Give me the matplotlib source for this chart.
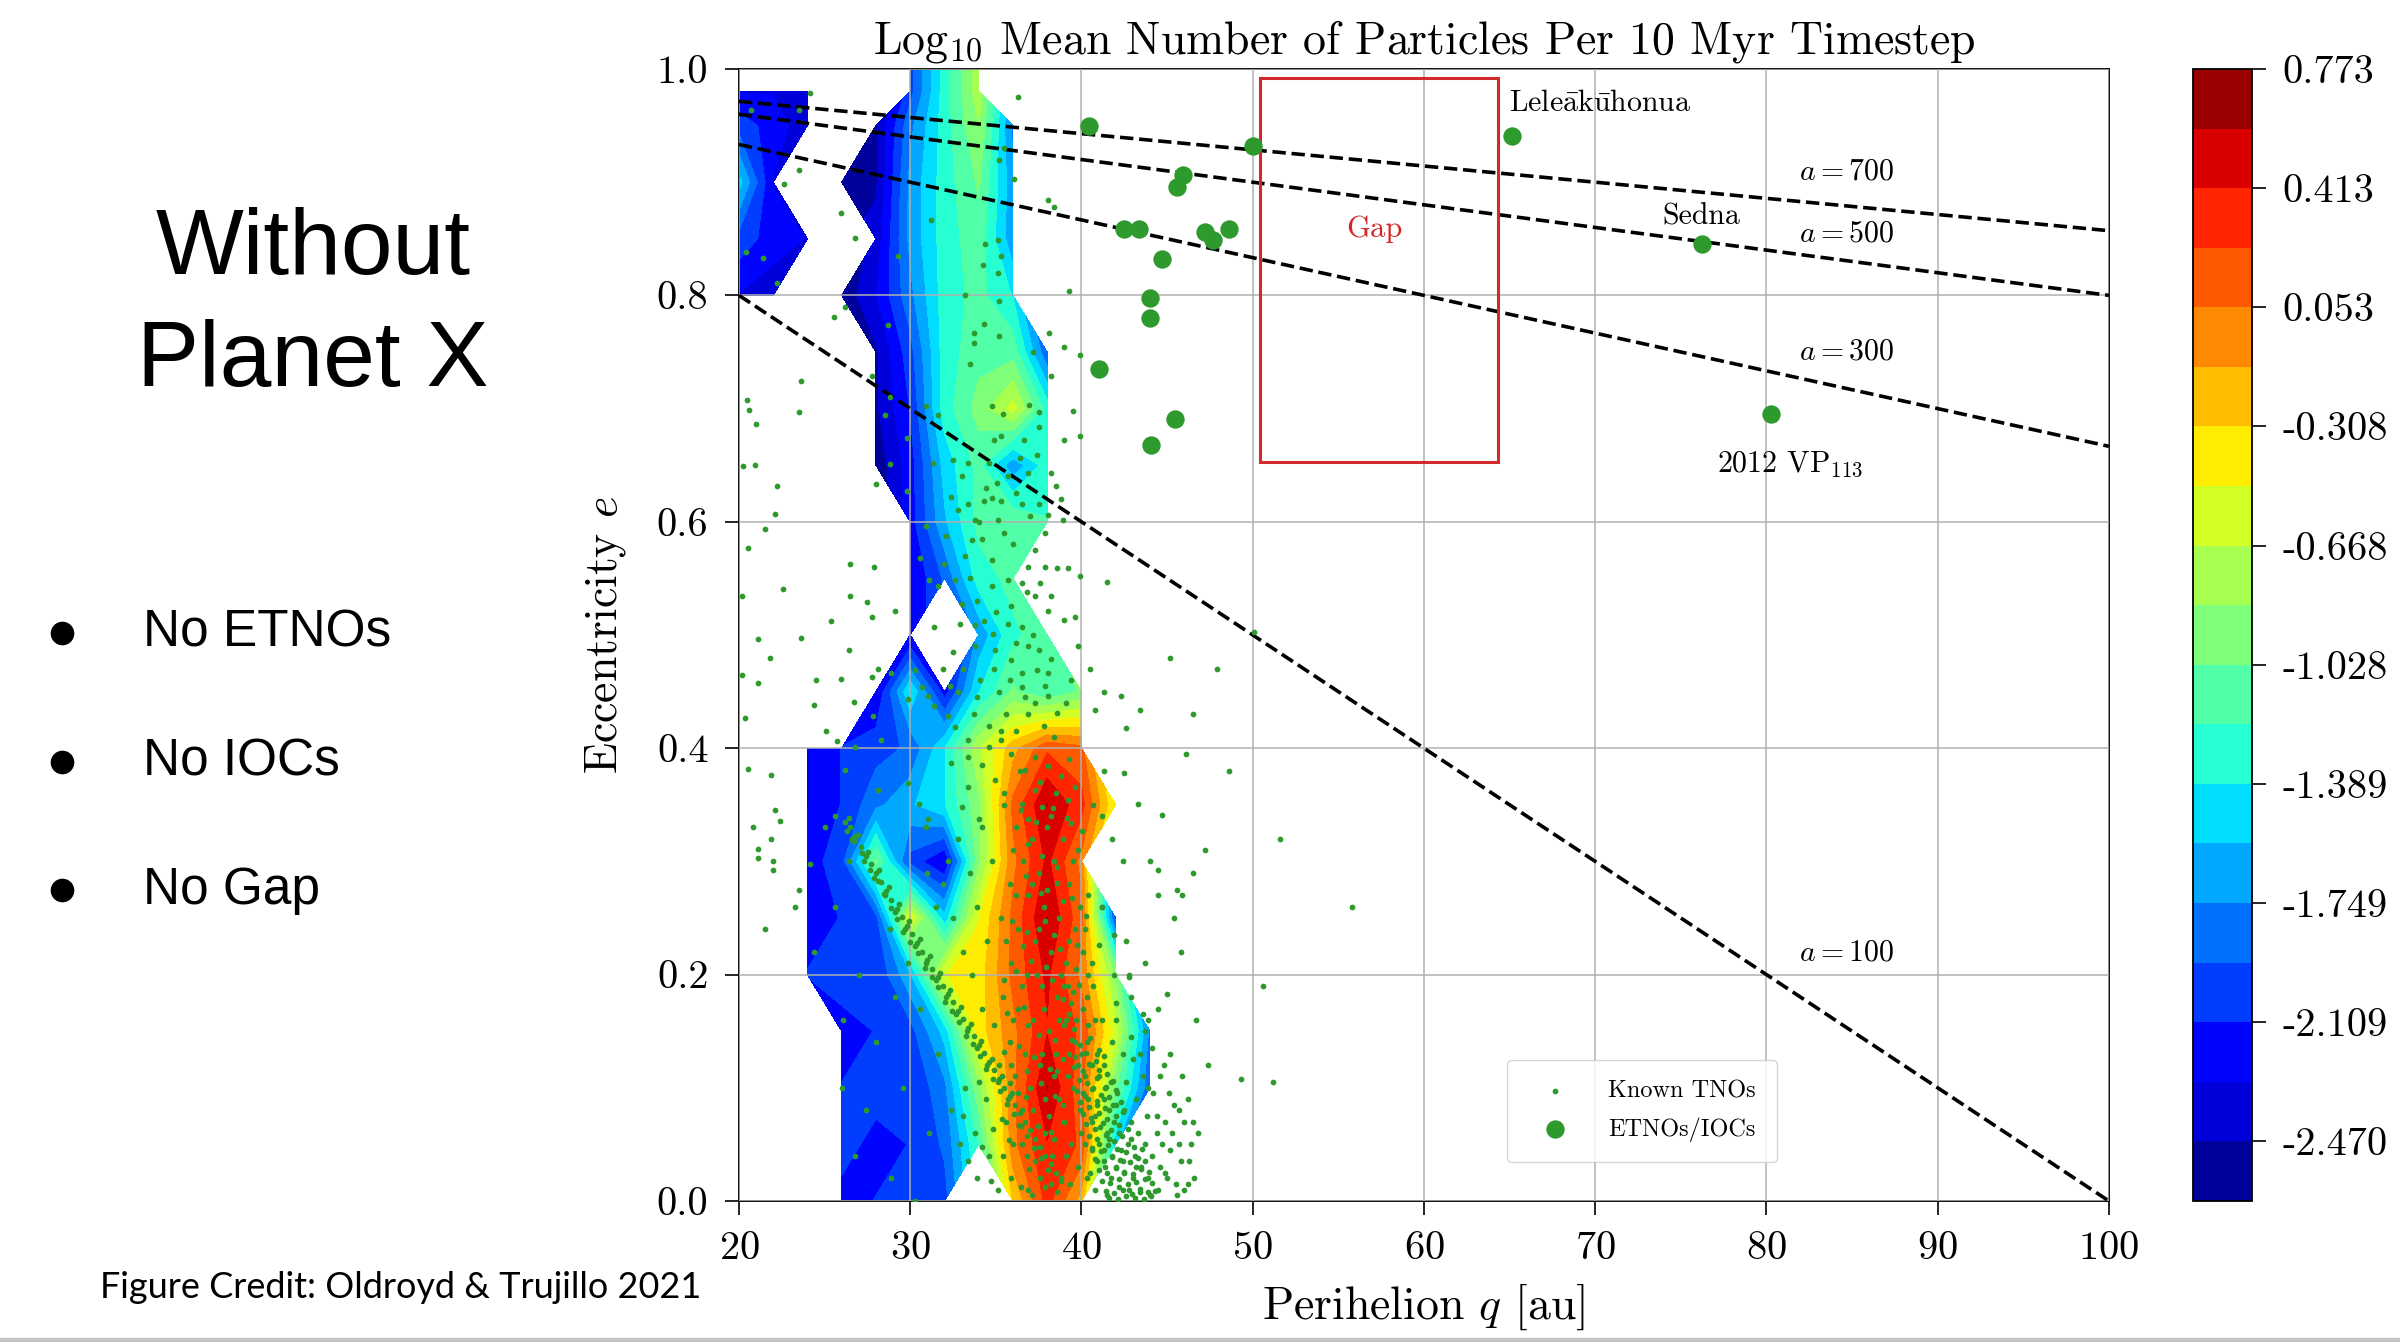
import numpy as np
import matplotlib.pyplot as plt
from matplotlib.patches import Rectangle
from matplotlib.lines import Line2D

plt.rcParams['font.family'] = 'cmr10'
plt.rcParams['mathtext.fontset'] = 'cm'
plt.rcParams['axes.unicode_minus'] = False
plt.rcParams['axes.formatter.use_mathtext'] = True

n = np.nan

# grid of log10 mean particle counts (rows top -> bottom)
q_grid = [20, 22, 24, 26, 28, 30, 32, 34, 36, 38, 40, 42, 44, 46, 48]
e_grid = [1.00, 0.98, 0.95, 0.90, 0.85, 0.80, 0.75, 0.70, 0.65, 0.60, 0.55, 0.50,
          0.45, 0.40, 0.35, 0.30, 0.25, 0.20, 0.15, 0.10, 0.05, 0.00]
log_counts = [
    [n, n, n, n, n, -2.0, -1.3, -0.75, n, n, n, n, n, n, n],
    [-2.3, -2.3, -2.4, n, n, -2.0, -1.3, -0.75, n, n, n, n, n, n, n],
    [-2.0, -2.2, -2.4, n, -2.5, -1.8, -1.3, -0.85, -1.8, n, n, n, n, n, n],
    [-1.5, -2.3, n, -2.6, -2.5, -1.7, -1.3, -1.0, -1.7, n, n, n, n, n, n],
    [-2.0, -2.2, -2.3, n, -2.4, -1.7, -1.3, -1.1, -1.7, n, n, n, n, n, n],
    [-2.3, -2.4, n, -2.6, -2.3, -1.8, -1.3, -1.15, -1.4, n, n, n, n, n, n],
    [n, n, n, n, -2.5, -2.0, -1.3, -1.1, -1.1, -1.9, n, n, n, n, n],
    [n, n, n, n, -2.5, -2.1, -1.3, -0.95, -0.6, -1.3, n, n, n, n, n],
    [n, n, n, n, -2.6, -2.2, -1.5, -1.15, -1.7, -1.3, n, n, n, n, n],
    [n, n, n, n, n, -2.2, -1.6, -1.15, -1.05, -1.2, n, n, n, n, n],
    [n, n, n, n, n, -2.3, -1.9, -1.3, -1.15, n, n, n, n, n, n],
    [n, n, n, n, n, -2.3, n, -1.7, -1.25, -1.1, n, n, n, n, n],
    [n, n, n, n, -2.3, -1.4, -2.2, -1.4, -1.0, -1.2, -1.0, n, n, n, n],
    [n, n, -2.3, -2.1, -2.0, -1.9, -1.4, -0.7, -0.2, 0.2, 0.1, n, n, n, n],
    [n, n, -2.3, -2.1, -1.8, -1.6, -1.4, -0.9, 0.1, 0.6, 0.3, -0.5, n, n, n],
    [n, n, -2.2, -2.0, -1.0, -2.0, -2.3, -0.9, 0.0, 0.45, 0.0, n, n, n, n],
    [n, n, -2.2, -2.1, -2.0, -0.5, -1.5, -0.5, 0.1, 0.6, 0.1, -2.0, n, n, n],
    [n, n, -2.1, -2.0, -2.1, -1.6, -0.5, -0.4, 0.1, 0.45, 0.0, -0.9, n, n, n],
    [n, n, n, -2.2, -2.1, -2.0, -1.5, -0.4, 0.0, 0.4, 0.2, -0.6, -1.8, n, n],
    [n, n, n, -2.1, -2.0, -2.1, -1.8, -0.9, 0.0, 0.6, 0.1, -1.0, -1.9, n, n],
    [n, n, n, -2.0, -2.2, -2.1, -1.9, -1.2, 0.0, 0.4, 0.2, -1.5, n, n, n],
    [n, n, n, -2.2, -2.1, -2.0, -2.0, n, -0.3, 0.3, -0.2, n, n, n, n],
]
level_min = -2.6499
level_max = 0.7733
n_levels = 20

# extreme TNOs / inner Oort cloud objects
etno_q = [40.47, 50.03, 65.14, 45.93, 45.58, 42.49, 43.35, 47.24, 47.68,
          48.62, 44.73, 44.03, 44.03, 41.0, 45.48, 44.05, 76.23, 80.25]
etno_e = [0.950, 0.932, 0.941, 0.906, 0.896, 0.859, 0.859, 0.856, 0.849,
          0.859, 0.832, 0.798, 0.780, 0.735, 0.691, 0.668, 0.845, 0.695]

# known TNOs (q, e)
known_tnos = [
    (24.15, 0.979), (23.5, 0.964), (20.7, 0.964), (36.27, 0.975), (23.5, 0.911),
    (22.65, 0.898), (25.96, 0.873), (26.77, 0.851), (20.39, 0.838), (21.4, 0.833),
    (29.3, 0.835), (22.2, 0.811), (31.2, 0.867), (34.36, 0.845), (35.1, 0.849),
    (34.26, 0.827), (35.3, 0.835), (35.1, 0.82), (33.2, 0.80), (35.2, 0.795),
    (39.3, 0.804), (38.06, 0.884), (38.4, 0.878), (35.5, 0.93), (35.2, 0.92),
    (36.05, 0.903), (26.2, 0.79), (25.55, 0.781), (28.7, 0.774), (34.3, 0.775),
    (33.7, 0.767), (35.2, 0.764), (33.7, 0.758), (38.1, 0.767), (39.0, 0.754),
    (39.9, 0.747), (37.15, 0.75), (33.5, 0.739), (23.6, 0.724), (27.75, 0.729),
    (38.2, 0.729), (20.47, 0.708), (20.6, 0.699), (28.8, 0.71), (23.5, 0.697),
    (21.0, 0.686), (30.9, 0.702), (31.6, 0.694), (28.5, 0.694), (34.75, 0.702),
    (35.4, 0.695), (36.95, 0.703), (37.5, 0.697), (39.5, 0.698), (37.5, 0.684),
    (35.3, 0.676), (34.9, 0.672), (36.66, 0.672), (39.0, 0.672), (39.9, 0.676),
    (29.83, 0.674),
    (20.26, 0.649), (20.94, 0.650), (22.2, 0.632), (22.1, 0.607), (21.5, 0.594),
    (20.5, 0.577), (26.5, 0.563), (27.9, 0.560), (22.6, 0.541), (20.2, 0.534),
    (26.5, 0.534), (27.5, 0.529), (29.1, 0.521), (27.75, 0.516), (25.4, 0.512),
    (21.1, 0.496), (23.6, 0.497), (26.4, 0.487), (21.8, 0.48), (28.1, 0.47),
    (20.2, 0.465), (21.1, 0.458), (24.5, 0.46), (25.96, 0.461), (27.75, 0.463),
    (24.4, 0.438), (26.7, 0.441), (20.35, 0.427), (25.1, 0.415), (25.7, 0.406),
    (20.55, 0.382), (21.9, 0.376), (22.1, 0.345), (22.4, 0.336),
    (28.8, 0.651), (29.8, 0.627), (28.0, 0.633), (31.35, 0.652), (32.5, 0.655),
    (33.4, 0.652), (34.6, 0.652), (36.4, 0.656), (37.4, 0.659), (36.9, 0.643),
    (38.2, 0.643), (35.04, 0.634), (33.0, 0.640), (32.4, 0.622), (33.4, 0.616),
    (34.3, 0.618), (34.75, 0.621), (35.3, 0.618), (36.5, 0.616), (37.5, 0.616),
    (38.5, 0.632), (33.8, 0.602), (35.1, 0.602), (38.06, 0.606), (38.9, 0.602),
    (30.95, 0.596), (32.1, 0.587), (33.6, 0.584), (34.2, 0.585), (32.0, 0.563),
    (34.75, 0.566), (37.3, 0.575), (37.9, 0.560), (38.55, 0.559), (39.2, 0.559),
    (39.9, 0.552), (41.5, 0.547), (30.57, 0.568), (31.1, 0.549), (31.6, 0.543),
    (32.6, 0.549), (34.75, 0.543), (35.7, 0.549), (36.5, 0.546), (36.8, 0.538),
    (37.6, 0.546), (37.3, 0.534), (38.25, 0.534), (39.0, 0.513), (39.6, 0.516),
    (38.06, 0.521), (35.9, 0.526), (35.7, 0.510), (36.5, 0.507), (33.8, 0.509),
    (33.0, 0.527), (34.3, 0.512), (31.4, 0.507), (32.5, 0.485), (33.8, 0.490),
    (34.85, 0.501), (34.95, 0.487), (36.2, 0.493), (36.9, 0.490), (37.5, 0.487),
    (38.2, 0.479), (35.9, 0.478), (36.5, 0.466), (37.4, 0.469), (38.06, 0.466),
    (39.4, 0.460), (36.5, 0.454), (38.06, 0.446), (37.3, 0.440), (38.55, 0.431),
    (40.8, 0.434), (42.6, 0.418), (43.4, 0.434), (42.3, 0.446), (30.3, 0.469),
    (30.7, 0.454), (31.4, 0.437), (32.2, 0.428), (32.6, 0.419), (33.4, 0.407),
    (31.05, 0.446), (28.9, 0.466), (29.9, 0.443), (27.8, 0.428), (28.3, 0.407),
    (26.8, 0.401), (26.2, 0.381), (28.1, 0.363), (29.9, 0.369), (30.5, 0.351),
    (31.05, 0.337), (25.6, 0.34),
    (33.1, 0.47), (34.1, 0.46), (35.2, 0.45), (34.6, 0.42), (35.6, 0.43),
    (36.2, 0.415), (33.7, 0.43), (32.8, 0.45), (31.9, 0.47), (35.0, 0.52),
    (33.5, 0.55), (36.0, 0.58), (34.0, 0.60), (32.8, 0.61), (35.7, 0.64),
    (37.9, 0.59), (38.8, 0.62), (37.2, 0.50), (39.8, 0.49), (40.5, 0.47),
    (41.3, 0.45), (39.1, 0.44), (37.8, 0.42), (36.9, 0.43), (38.4, 0.41),
    (34.4, 0.63), (35.5, 0.59), (36.9, 0.56), (33.2, 0.57), (34.9, 0.47),
    (35.8, 0.46), (36.7, 0.445), (33.9, 0.445), (35.3, 0.415), (32.3, 0.455),
    (36.2, 0.625), (37.0, 0.605), (33.9, 0.53), (32.9, 0.51), (37.9, 0.455),
    (33.4, 0.392), (34.2, 0.385), (34.6, 0.401), (35.3, 0.407), (35.9, 0.395),
    (36.7, 0.381), (37.3, 0.392), (38.06, 0.384), (38.8, 0.375), (39.6, 0.366),
    (34.95, 0.372), (35.5, 0.360), (36.5, 0.351), (37.3, 0.363), (37.7, 0.348),
    (38.25, 0.340), (39.2, 0.354), (33.4, 0.366), (33.0, 0.348), (34.0, 0.337),
    (36.9, 0.337), (41.2, 0.340), (43.3, 0.351), (44.7, 0.341), (42.5, 0.378),
    (46.1, 0.395), (39.4, 0.334), (32.4, 0.387),
    # plutino band
    (26.2, 0.335), (26.5, 0.33), (26.8, 0.322), (27.1, 0.313), (27.4, 0.305),
    (27.7, 0.298), (28.0, 0.29), (28.3, 0.282), (28.6, 0.274), (28.9, 0.266),
    (29.2, 0.258), (29.5, 0.251), (29.8, 0.243), (30.1, 0.236), (30.4, 0.228),
    (30.7, 0.22), (31.0, 0.213), (31.3, 0.205), (31.6, 0.198), (31.9, 0.19),
    (32.2, 0.183), (32.5, 0.176), (32.8, 0.168), (33.1, 0.161), (33.4, 0.153),
    (33.7, 0.146), (34.0, 0.138), (34.3, 0.131), (34.6, 0.123), (34.9, 0.116),
    (35.2, 0.108), (35.5, 0.1), (35.8, 0.093), (36.1, 0.085), (36.4, 0.078),
    (36.7, 0.07), (37.0, 0.063), (37.3, 0.055), (37.6, 0.048), (37.9, 0.04),
    (38.2, 0.033), (38.5, 0.025), (38.8, 0.018),
    (26.4, 0.338), (26.95, 0.323), (27.55, 0.308), (28.15, 0.292), (28.75, 0.277),
    (29.35, 0.262), (29.95, 0.247), (30.55, 0.231), (31.15, 0.216), (31.75, 0.201),
    (32.35, 0.186), (32.95, 0.171), (33.55, 0.156), (34.15, 0.141), (34.75, 0.125),
    (35.35, 0.11), (35.95, 0.095), (36.55, 0.08),
    (26.6, 0.32), (27.3, 0.30), (27.9, 0.285), (28.5, 0.27), (29.1, 0.255),
    (29.7, 0.24), (30.3, 0.225), (30.9, 0.21), (31.5, 0.195), (32.1, 0.18),
    (32.7, 0.165), (33.3, 0.15), (33.9, 0.135), (34.5, 0.12), (35.1, 0.105),
    (35.7, 0.09),
    (26.3, 0.327), (26.7, 0.318), (27.2, 0.307), (27.65, 0.292), (28.1, 0.283),
    (28.45, 0.271), (28.85, 0.259), (29.25, 0.249), (29.6, 0.238), (30.0, 0.229),
    (30.45, 0.219), (30.85, 0.206), (31.25, 0.198), (31.65, 0.189), (32.05, 0.176),
    (32.45, 0.168), (32.85, 0.158), (33.25, 0.146), (33.65, 0.139), (34.05, 0.128),
    (34.45, 0.117), (34.85, 0.108), (35.25, 0.097), (35.65, 0.086), (36.05, 0.077),
    (36.45, 0.066), (36.85, 0.057), (37.25, 0.047), (37.65, 0.038), (38.05, 0.027),
    # classical belt
    (39.6, 0.14), (40.0, 0.13), (40.3, 0.14), (40.6, 0.12), (39.8, 0.12),
    (40.2, 0.11), (40.7, 0.10), (41.0, 0.11), (40.4, 0.09), (40.9, 0.085),
    (41.3, 0.09), (41.6, 0.08), (40.6, 0.07), (41.1, 0.065), (41.5, 0.06),
    (41.9, 0.07), (42.2, 0.06), (41.3, 0.045), (41.8, 0.04), (42.3, 0.045),
    (42.7, 0.05), (43.1, 0.04), (42.0, 0.03), (42.5, 0.025), (43.0, 0.02),
    (43.5, 0.03), (43.9, 0.02), (42.8, 0.01), (43.4, 0.008), (44.0, 0.005),
    (44.5, 0.01), (41.7, 0.02), (42.2, 0.012), (40.9, 0.035), (41.4, 0.03),
    (40.2, 0.05), (40.6, 0.045), (39.9, 0.08), (40.0, 0.06), (39.5, 0.1),
    (39.3, 0.13), (39.7, 0.16), (40.1, 0.17), (40.4, 0.155), (40.9, 0.13),
    (41.3, 0.12), (41.7, 0.105), (42.1, 0.095), (42.5, 0.08), (42.9, 0.07),
    (43.3, 0.06), (43.7, 0.05), (44.1, 0.04), (44.6, 0.03), (45.0, 0.02),
    (45.5, 0.015), (46.0, 0.01), (45.2, 0.045), (44.4, 0.06), (43.8, 0.075),
    (43.2, 0.09), (42.6, 0.105), (44.9, 0.07), (45.7, 0.05), (46.3, 0.035),
    (46.6, 0.02), (44.2, 0.095), (43.6, 0.11), (45.4, 0.085), (46.0, 0.07),
    (44.8, 0.12), (45.9, 0.11), (42.4, 0.13), (41.8, 0.14), (43.0, 0.125),
    (41.2, 0.16), (42.0, 0.175), (40.7, 0.19), (43.7, 0.15), (44.5, 0.17),
    (42.8, 0.2), (46.2, 0.09), (46.8, 0.06), (41.5, 0.005), (40.8, 0.01),
    (40.3, 0.02), (39.8, 0.03), (39.4, 0.05), (39.0, 0.07), (38.7, 0.09),
    (38.4, 0.11), (39.1, 0.04), (38.8, 0.02), (38.3, 0.04), (37.9, 0.06),
    (40.5, 0.025), (41.0, 0.05), (41.6, 0.055), (42.4, 0.035), (43.2, 0.03),
    (40.1, 0.095), (40.8, 0.075), (41.4, 0.1), (42.0, 0.085), (39.2, 0.11),
    (39.45, 0.142), (39.93, 0.138), (40.52, 0.144), (41.05, 0.133), (39.62, 0.127),
    (40.24, 0.131), (40.83, 0.124), (41.31, 0.128), (39.55, 0.118), (40.12, 0.115),
    (40.47, 0.121), (41.02, 0.116), (41.52, 0.112), (39.83, 0.107), (40.33, 0.104),
    (40.88, 0.109), (41.43, 0.101), (41.82, 0.106), (39.72, 0.097), (40.18, 0.093),
    (40.61, 0.099), (41.14, 0.094), (41.63, 0.092), (42.03, 0.098), (39.94, 0.087),
    (40.42, 0.083), (40.93, 0.088), (41.38, 0.082), (41.84, 0.085), (42.31, 0.087),
    (40.08, 0.077), (40.54, 0.073), (41.03, 0.078), (41.52, 0.072), (42.04, 0.075),
    (42.43, 0.079), (40.28, 0.068), (40.81, 0.064), (41.27, 0.069), (41.74, 0.063),
    (42.21, 0.067), (42.72, 0.064), (40.44, 0.057), (40.92, 0.055), (41.43, 0.058),
    (41.88, 0.053), (42.36, 0.057), (42.88, 0.055), (40.63, 0.047), (41.12, 0.044),
    (41.58, 0.049), (42.09, 0.046), (42.61, 0.043), (43.08, 0.048), (43.52, 0.046),
    (40.79, 0.037), (41.33, 0.035), (41.81, 0.039), (42.27, 0.036), (42.83, 0.034),
    (43.28, 0.038), (43.74, 0.035), (41.01, 0.027), (41.52, 0.025), (42.03, 0.029),
    (42.48, 0.026), (43.02, 0.024), (43.47, 0.028), (43.93, 0.026), (41.22, 0.018),
    (41.68, 0.016), (42.21, 0.019), (42.73, 0.015), (43.19, 0.017), (43.71, 0.019),
    (44.12, 0.016), (41.43, 0.009), (41.92, 0.007), (42.41, 0.010), (42.93, 0.006),
    (43.42, 0.011), (43.88, 0.008), (44.31, 0.009), (41.63, 0.003), (42.14, 0.002),
    (42.62, 0.004), (43.13, 0.003), (43.64, 0.002), (44.08, 0.004),
    (39.1, 0.16), (39.4, 0.175), (39.0, 0.19), (38.8, 0.20),
    (44.7, 0.05), (45.3, 0.06), (45.8, 0.035), (46.4, 0.05), (44.9, 0.025),
    (45.6, 0.005), (46.2, 0.015), (44.4, 0.075), (45.1, 0.095), (45.7, 0.08),
    (46.5, 0.07), (43.9, 0.10), (44.6, 0.11), (43.4, 0.13), (44.1, 0.135),
    (45.2, 0.13), (42.9, 0.145), (43.6, 0.165),
    # scattered through the warm region
    (36.2, 0.33), (37.1, 0.32), (38.0, 0.33), (38.9, 0.32), (39.8, 0.31),
    (36.6, 0.30), (37.5, 0.29), (38.4, 0.30), (39.3, 0.28), (40.4, 0.27),
    (35.8, 0.28), (36.9, 0.27), (37.8, 0.26), (38.7, 0.25), (39.6, 0.24),
    (35.3, 0.25), (36.3, 0.24), (37.3, 0.23), (38.2, 0.22), (39.1, 0.21),
    (40.1, 0.22), (35.9, 0.21), (36.8, 0.20), (37.7, 0.19), (38.6, 0.18),
    (39.5, 0.185), (40.4, 0.2), (35.4, 0.18), (36.3, 0.17), (37.2, 0.16),
    (38.1, 0.15), (39.0, 0.155), (34.9, 0.155), (35.8, 0.14), (36.7, 0.13),
    (37.6, 0.12), (38.5, 0.13), (35.2, 0.12), (36.1, 0.11), (37.0, 0.10),
    (37.9, 0.09), (35.6, 0.07), (36.5, 0.05), (37.3, 0.035), (38.2, 0.015),
    (36.9, 0.01), (35.9, 0.02), (34.6, 0.04), (35.1, 0.01), (33.8, 0.06),
    (34.4, 0.09), (33.2, 0.1), (32.9, 0.05), (33.9, 0.02), (34.2, 0.17),
    (33.6, 0.2), (33.1, 0.22), (32.5, 0.25), (33.9, 0.26), (34.5, 0.23),
    (34.8, 0.3), (34.2, 0.33), (33.5, 0.29), (32.8, 0.32), (31.9, 0.28),
    (32.2, 0.3), (31.5, 0.26), (31.0, 0.29), (30.9, 0.33), (37.6, 0.37),
    (38.5, 0.36), (36.4, 0.38), (39.3, 0.39), (35.5, 0.35), (40.7, 0.35),
    (41.8, 0.32), (42.4, 0.3), (41.2, 0.26), (42.6, 0.23), (43.7, 0.21),
    (41.9, 0.2), (42.9, 0.18), (43.9, 0.16), (44.5, 0.27), (45.4, 0.25),
    (41.3, 0.38), (44.0, 0.3), (45.8, 0.22), (46.7, 0.16), (47.4, 0.12),
    (46.5, 0.29), (44.5, 0.292), (45.6, 0.275), (45.9, 0.27), (45.0, 0.183),
    (42.0, 0.16), (42.8, 0.198), (41.2, 0.26), (41.9, 0.235), (41.0, 0.226),
    (36.0, 0.31), (36.9, 0.315), (37.7, 0.305), (38.6, 0.295), (39.5, 0.30),
    (36.2, 0.27), (37.1, 0.28), (38.0, 0.275), (38.9, 0.265), (39.9, 0.26),
    (35.6, 0.23), (36.6, 0.225), (37.5, 0.24), (38.4, 0.235), (39.3, 0.23),
    (40.2, 0.24), (35.5, 0.195), (36.5, 0.19), (37.4, 0.20), (38.3, 0.195),
    (39.2, 0.19), (36.0, 0.16), (36.9, 0.155), (37.8, 0.17), (38.7, 0.16),
    (39.3, 0.165), (35.9, 0.12), (36.8, 0.115), (37.7, 0.13), (38.6, 0.115),
    (36.3, 0.095), (37.2, 0.08), (38.1, 0.075), (38.9, 0.085), (36.0, 0.05),
    (36.8, 0.04), (37.6, 0.02), (38.4, 0.055), (37.1, 0.005), (35.4, 0.04),
    (39.7, 0.205), (40.6, 0.21), (40.3, 0.18), (40.8, 0.16),
    (36.45, 0.345), (37.35, 0.335), (38.35, 0.347), (39.15, 0.338), (40.05, 0.327),
    (36.75, 0.287), (37.65, 0.272), (38.55, 0.281), (39.45, 0.268), (40.25, 0.252),
    (35.95, 0.247), (36.85, 0.238), (37.85, 0.247), (38.75, 0.223), (39.75, 0.226),
    (36.15, 0.203), (37.05, 0.212), (37.95, 0.207), (38.95, 0.178), (39.85, 0.191),
    (35.65, 0.166), (36.65, 0.171), (37.55, 0.147), (38.45, 0.142), (39.55, 0.152),
    (36.35, 0.137), (37.25, 0.127), (38.15, 0.117), (38.95, 0.125), (35.45, 0.132),
    (35.85, 0.104), (36.75, 0.092), (37.65, 0.104), (38.45, 0.093), (36.35, 0.067),
    (37.45, 0.066), (38.25, 0.061), (35.75, 0.054), (36.95, 0.028), (37.85, 0.012),
    (36.45, 0.012), (38.55, 0.008), (39.35, 0.015), (35.35, 0.072), (34.85, 0.064),
    (34.2, 0.048), (33.4, 0.035), (34.7, 0.018), (33.1, 0.075), (34.0, 0.105),
    # left blue region and far left
    (26.4, 0.30), (25.6, 0.26), (27.0, 0.2), (26.1, 0.16), (28.0, 0.14),
    (27.4, 0.08), (26.8, 0.04), (28.9, 0.02), (29.6, 0.1), (30.6, 0.17),
    (29.9, 0.21), (28.8, 0.24), (25.0, 0.33), (26.0, 0.1), (31.1, 0.06),
    (30.3, 0.0), (29.1, 0.18), (31.6, 0.13), (32.4, 0.08),
    (21.1, 0.311), (21.1, 0.303), (22.0, 0.300), (22.0, 0.292), (24.15, 0.298),
    (23.5, 0.275), (20.8, 0.33), (21.9, 0.32), (23.3, 0.26), (21.5, 0.24),
    (24.4, 0.22),
    # beyond 47 au
    (51.6, 0.32), (55.8, 0.26), (50.6, 0.19), (49.3, 0.108), (51.2, 0.105),
    (50.1, 0.503), (46.5, 0.43), (47.9, 0.47), (45.2, 0.48), (48.6, 0.38),
    (47.2, 0.31),
]
tno_q = [p[0] for p in known_tnos]
tno_e = [p[1] for p in known_tnos]

a_values = [700, 500, 300, 100]
a_label_q = 84.7
a_label_e = [0.909, 0.854, 0.750, 0.219]

object_names = ['Lele$\\bar{\\mathrm{a}}$k$\\bar{\\mathrm{u}}$honua', 'Sedna', '2012 VP$_{113}$']
object_q = [70.3, 76.2, 81.4]
object_e = [0.970, 0.869, 0.651]

gap_q = [50.4, 64.3]
gap_e = [0.653, 0.992]

red = '#d22a2a'
green = '#2e9a2e'

fig = plt.figure(figsize=(24, 13.42), dpi=100)
ax = fig.add_axes([0.3079, 0.1051, 0.5708, 0.8435])
cax = fig.add_axes([0.9138, 0.1051, 0.0244, 0.8435])

levels = np.linspace(level_min, level_max, n_levels)
cs = ax.contourf(q_grid, e_grid, np.array(log_counts, dtype=float),
                 levels=levels, cmap='jet', zorder=1)

ax.set_axisbelow(False)
ax.grid(True, color='#b0b0b0', lw=1.1)

qq = np.array([20, 100])
for a in a_values:
    ax.plot(qq, 1 - qq / a, color='black', ls='--', lw=2.6, zorder=3)
for a, ey in zip(a_values, a_label_e):
    ax.text(a_label_q, ey, '$a = %d$' % a, fontsize=21.5, ha='center', va='center', zorder=4)

ax.add_patch(Rectangle((gap_q[0], gap_e[0]), gap_q[1] - gap_q[0], gap_e[1] - gap_e[0],
                       fill=False, edgecolor=red, lw=2.2, zorder=3))
ax.text(57.1, 0.858, 'Gap', color=red, fontsize=22, ha='center', va='center', zorder=4)

ax.scatter(tno_q, tno_e, s=17, color=green, lw=0, zorder=3, label='Known TNOs')
ax.scatter(etno_q, etno_e, s=175, color=green, lw=0, zorder=3, label='ETNOs/IOCs')

for name, x, y in zip(object_names, object_q, object_e):
    ax.text(x, y, name, fontsize=21.5, ha='center', va='center', zorder=4)

ax.set_xlim(20, 100)
ax.set_ylim(0, 1)
ax.set_xticks([20, 30, 40, 50, 60, 70, 80, 90, 100])
ax.set_yticks([0.0, 0.2, 0.4, 0.6, 0.8, 1.0])
ax.set_yticklabels(['0.0', '0.2', '0.4', '0.6', '0.8', '1.0'])
ax.tick_params(direction='out', length=10, width=1.2, labelsize=29, pad=12)
for sp in ax.spines.values():
    sp.set_linewidth(1.3)

ax.set_title('Log$_{10}$ Mean Number of Particles Per 10 Myr Timestep', fontsize=33, pad=11)
ax.set_xlabel('Perihelion $q$ [au]', fontsize=33)
ax.set_ylabel('Eccentricity $e$', fontsize=33)
ax.xaxis.set_label_coords(0.5, -0.071)
ax.yaxis.set_label_coords(-0.081, 0.5)

ax.legend(loc='lower left', bbox_to_anchor=(0.561, 0.034), borderaxespad=0,
          fontsize=17.5, scatterpoints=1, borderpad=0.85, labelspacing=0.6,
          handletextpad=1.1, handlelength=2.2)

cb = fig.colorbar(cs, cax=cax, ticks=levels[1::2])
cb.ax.set_yticklabels(['%.3f' % v for v in levels[1::2]])
cb.ax.tick_params(labelsize=29, length=10, width=1.2, pad=12)
cb.outline.set_linewidth(1.3)

# slide text
fig.text(0.1304, 0.7958, 'Without', family='Liberation Sans', fontsize=67, ha='center', va='baseline')
fig.text(0.1304, 0.7124, 'Planet X', family='Liberation Sans', fontsize=67, ha='center', va='baseline')
bullets = ['No ETNOs', 'No IOCs', 'No Gap']
bullet_base = [0.5179, 0.4218, 0.3264]
for txt, yb in zip(bullets, bullet_base):
    fig.text(0.0596, yb, txt, family='Liberation Sans', fontsize=37, va='baseline')
    fig.add_artist(Line2D([0.0258], [yb + 0.0105], marker='o', ms=16, color='black',
                          ls='none', transform=fig.transFigure))

credit = fig.text(0.0415, 0.0328, 'Figure Credit: Oldroyd & Trujillo 2021',
                  family='Lato', fontsize=30, va='baseline')
fig.canvas.draw()
w = credit.get_window_extent().width
credit.set_fontsize(30 * 601 / w)

fig.add_artist(Rectangle((0, 0), 1, 0.003, color='#c4c4c4', transform=fig.transFigure))

fig.savefig('out.png', dpi=100)
